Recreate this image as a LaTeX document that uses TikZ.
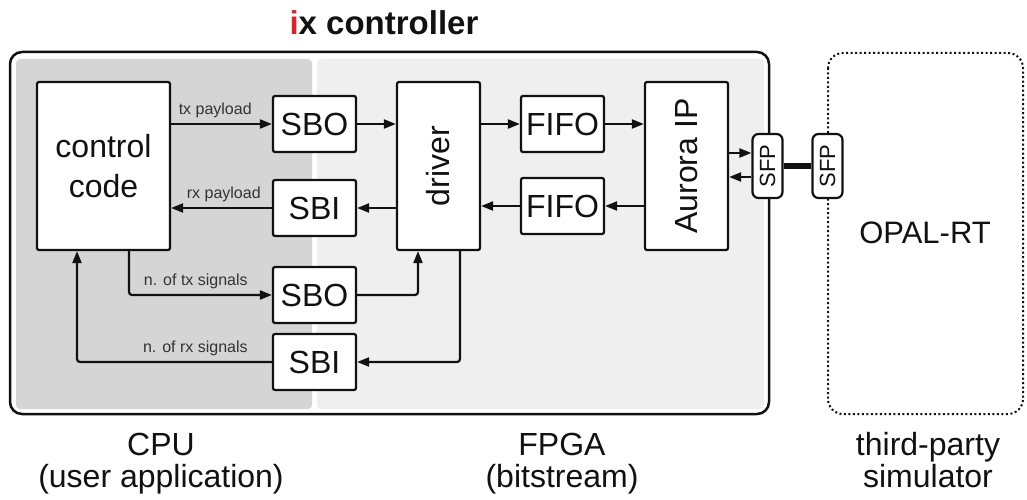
\documentclass[tikz,border=0pt]{standalone}
\usepackage{fontspec}
\setmainfont{Liberation Sans}
\usepackage{tikz}
\usetikzlibrary{arrows.meta}
\definecolor{ixred}{HTML}{e0202a}
\definecolor{cpugray}{HTML}{d5d5d5}
\definecolor{fpgagray}{HTML}{efefef}
\definecolor{ink}{HTML}{111111}
\definecolor{labelgray}{HTML}{333333}

\begin{document}
\begin{tikzpicture}[x=1pt, y=-1pt,
    blk/.style={draw=ink, fill=white, line width=2.2pt, rounded corners=2pt, inner sep=0pt, text=ink, font=\fontsize{32}{40}\selectfont},
    sfpbox/.style={draw=ink, fill=white, line width=2.2pt, rounded corners=6pt, inner sep=0pt, minimum width=30pt, minimum height=64pt, text=ink, font=\fontsize{22}{24}\selectfont},
    lbl/.style={text=labelgray, inner sep=0pt, anchor=base east, font=\fontsize{16}{18}\selectfont},
    big/.style={text=ink, align=center, inner sep=0pt, anchor=base, font=\fontsize{32}{32}\selectfont},
    wire/.style={draw=ink, line width=2.2pt, rounded corners=3pt, -{Triangle[length=12pt, width=9pt]}}]
  \useasboundingbox (0,0) rectangle (1027,500);
  \fill[cpugray, rounded corners=4pt] (16,59) rectangle (312,409);
  \fill[fpgagray, rounded corners=4pt] (317,59) rectangle (764,409);
  \draw[ink, line width=2.5pt, rounded corners=12pt] (10,52) rectangle (769,414);
  \draw[ink, line width=2pt, dash pattern=on 2pt off 2.5pt, rounded corners=15pt] (828,53) rectangle (1023,414);
  \node[anchor=base, font=\fontsize{33}{36}\selectfont\bfseries, text=ink] (title) at (384,35) {\textcolor{ixred}{i}x controller};

  \node[blk, minimum width=133pt, minimum height=168pt, align=center] (cc) at (103.5,166) {control\\code};
  \node[blk, minimum width=83pt, minimum height=168pt] (drv) at (438.5,166) {\rotatebox{90}{driver}};
  \node[blk, minimum width=83pt, minimum height=168pt] (aur) at (686.5,166) {\rotatebox{90}{Aurora IP}};
  \node[blk, minimum width=83pt, minimum height=56pt] (sbotx) at (314.5,124) {SBO};
  \node[blk, minimum width=83pt, minimum height=56pt] (sbirx) at (314.5,208) {SBI};
  \node[blk, minimum width=83pt, minimum height=56pt] (sbosig) at (314.5,295) {SBO};
  \node[blk, minimum width=83pt, minimum height=56pt] (sbisig) at (314.5,362) {SBI};
  \node[blk, minimum width=83pt, minimum height=56pt] (fifotx) at (562.5,124) {FIFO};
  \node[blk, minimum width=83pt, minimum height=56pt] (fiforx) at (562.5,206) {FIFO};
  \node[sfpbox] (sfpa) at (767.5,166) {\rotatebox{90}{SFP}};
  \node[sfpbox] (sfpb) at (827.5,166) {\rotatebox{90}{SFP}};
  \node[font=\fontsize{31}{34}\selectfont, text=ink] (opal) at (925,233) {OPAL-RT};

  \draw[wire] (cc.east |- sbotx.west) -- (sbotx.west);
  \draw[wire] (sbirx.west) -- (cc.east |- sbirx.west);
  \draw[wire] (sbotx.east) -- (drv.west |- sbotx.east);
  \draw[wire] (drv.west |- sbirx.east) -- (sbirx.east);
  \draw[wire] (drv.east |- fifotx.west) -- (fifotx.west);
  \draw[wire] (fiforx.west) -- (drv.east |- fiforx.west);
  \draw[wire] (fifotx.east) -- (aur.west |- fifotx.east);
  \draw[wire] (aur.west |- fiforx.east) -- (fiforx.east);
  \coordinate (sfpin) at ([yshift=13pt]sfpa.west);
  \coordinate (sfpout) at ([yshift=-11pt]sfpa.west);
  \draw[wire] (aur.east |- sfpin) -- (sfpin);
  \draw[wire] (sfpout) -- (aur.east |- sfpout);
  \draw[ink, line width=6pt] (sfpa.east) -- (sfpb.west);

  \coordinate (cctx) at ([xshift=25.5pt]cc.south);
  \coordinate (ccin) at ([xshift=-26.5pt]cc.south);
  \coordinate (drvin) at ([xshift=-20.5pt]drv.south);
  \coordinate (drvout) at ([xshift=21.5pt]drv.south);
  \draw[wire] (cctx) |- (sbosig.west);
  \draw[wire] (sbosig.east) -| (drvin);
  \draw[wire] (drvout) |- (sbisig.east);
  \draw[wire] (sbisig.west) -| (ccin);

  \node[lbl] (txlbl) at ([xshift=-20pt, yshift=9pt]sbotx.west) {tx payload};
  \node[lbl] (rxlbl) at ([xshift=-11pt, yshift=10pt]sbirx.west) {rx payload};
  \node[lbl] (ntxlbl) at ([xshift=-24pt, yshift=10pt]sbosig.west) {n. of tx signals};
  \node[lbl] (nrxlbl) at ([xshift=-24pt, yshift=10pt]sbisig.west) {n. of rx signals};

  \node[big] (cpu) at (161,487) {CPU\\(user application)};
  \node[big] (fpga) at (562,487) {FPGA\\(bitstream)};
  \node[big] (sim) at (928,487) {third-party\\simulator};
\end{tikzpicture}
\end{document}
